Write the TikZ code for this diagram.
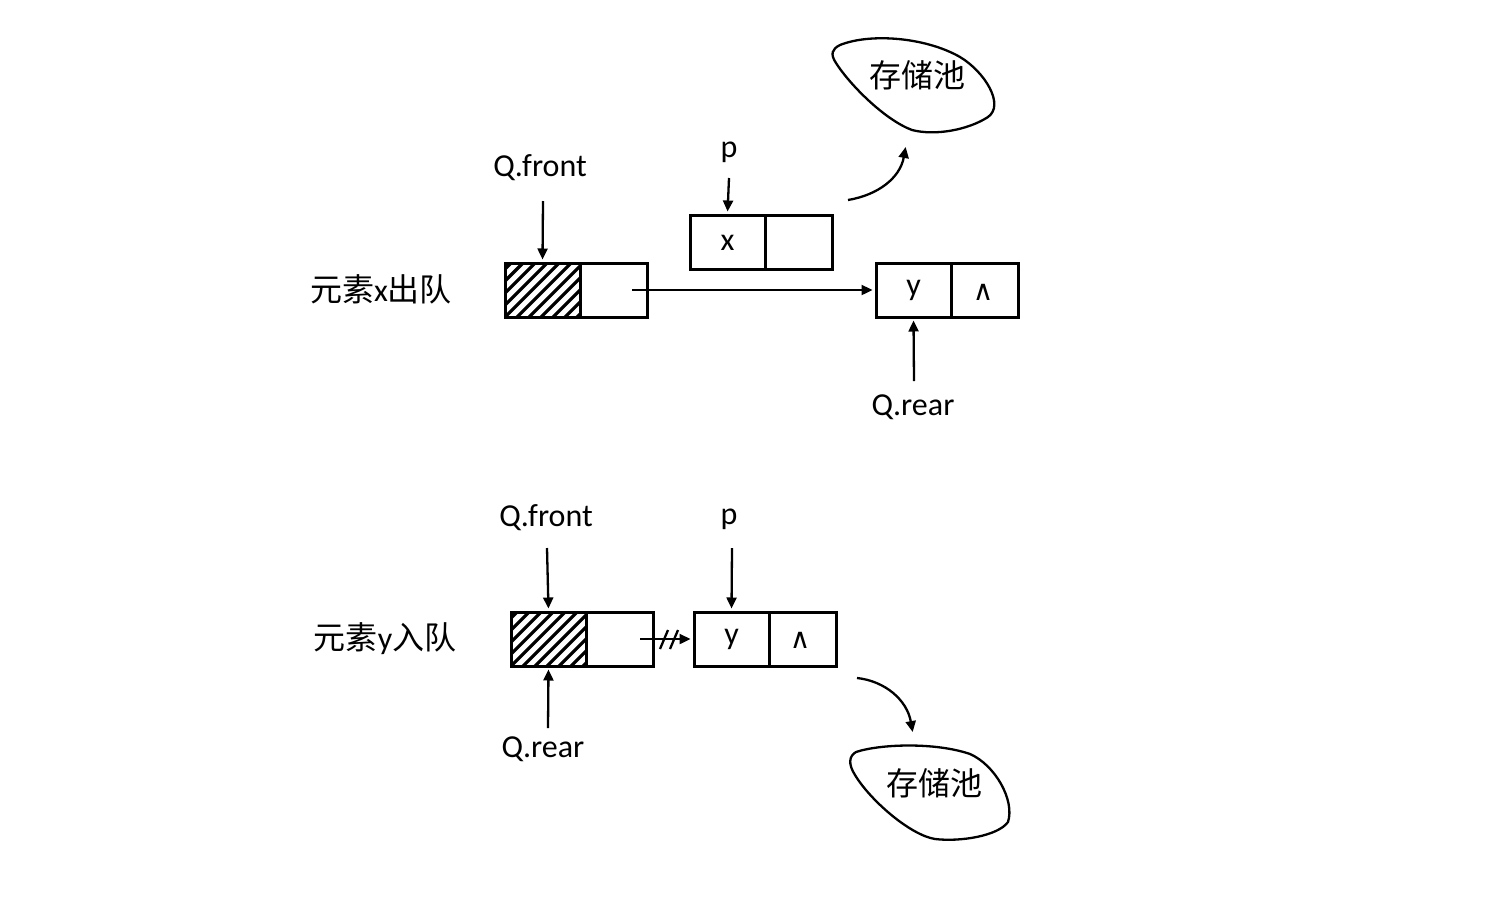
\documentclass[tikz,border=0pt]{standalone}
\usepackage{fontspec}
\setmainfont{Carlito}
\newfontfamily\cjk{Noto Sans CJK SC}
\newfontfamily\dejavu{DejaVu Sans}
\usetikzlibrary{arrows.meta}
\tikzset{
  cell/.style={draw, line width=3pt, rectangle, inner sep=0pt, minimum height=54pt},
  wide/.style={cell, minimum width=75pt},
  narrow/.style={cell, minimum width=67pt},
  lbl/.style={inner sep=0pt, font=\fontsize{32}{34}\selectfont},
  cjklbl/.style={inner sep=0pt, font=\fontsize{32}{34}\selectfont\cjk},
  ptr/.style={line width=2.3pt, -{Triangle[length=11pt,width=10pt]}, shorten >=2pt},
  blob/.style={line width=2.3pt},
  nil/.style={inner sep=0pt, font=\fontsize{28}{30}\selectfont\dejavu}
}
\newcommand{\hatchcell}[4]{% x0 y0 x1 y1
  \begin{scope}
    \clip (#1,#2) rectangle (#3,#4);
    \foreach \k in {-60,-48,...,80} {
      \draw[line width=3.2pt] (#1+\k,#4) -- ++(60,-60);
    }
  \end{scope}
}
\begin{document}
\begin{tikzpicture}[x=1pt,y=-1pt]
\useasboundingbox (0,0) rectangle (1504,908);

% ---------- top: dequeue x ----------
\node[cjklbl] (lab1) at (381,289) {元素{\rmfamily x}出队};
\hatchcell{505}{263}{580}{317}
\node[wide] (hx1) at (542.5,290) {};
\node[narrow] (ex1) at (614,290) {};
\node[lbl] (qf1) at (540,168) {Q.front};
\draw[ptr] (543,201) -- (hx1.north);

\node[wide] (px) at (727.5,242) {};
\node[narrow] (pn) at (798.5,242) {};
\node[lbl] at (727.5,243) {x};
\node[lbl] (p1) at (729,152) {p};
\draw[ptr] (729,178) -- (px.north);

\node[wide] (yx) at (913.5,290) {};
\node[narrow] (yn) at (984.5,290) {};
\node[lbl] at (913.5,290) {y};
\node[nil] at (983,292) {∧};
\node[lbl] (qr1) at (913,407) {Q.rear};
\draw[ptr] (914,381) -- (yx.south);

\coordinate (s1) at (632,290);
\draw[ptr] (s1) -- (yx.west);

\coordinate (c1a) at (848,200);
\coordinate (c1b) at (906,145);
\draw[ptr] (c1a) .. controls (878,195) and (900,178) .. (c1b);

\draw[blob] (840,45) .. controls (870,33) and (925,37) .. (960,57)
  .. controls (985,72) and (1005,105) .. (988,117)
  .. controls (968,130) and (935,136) .. (912,130)
  .. controls (885,120) and (850,85) .. (836,63)
  .. controls (830,54) and (832,49) .. (840,45);
\node[cjklbl] (pool1) at (917,75) {存储池};

% ---------- bottom: enqueue y ----------
\node[cjklbl] (lab2) at (385,639) {元素{\rmfamily y}入队};
\hatchcell{511}{612}{586}{666}
\node[wide] (hy) at (548.5,639) {};
\node[narrow] (ey) at (619.5,639) {};
\node[lbl] (qf2) at (546,518) {Q.front};
\draw[ptr] (547,548) -- (hy.north);
\node[lbl] (qr2) at (543,749) {Q.rear};
\draw[ptr] (548,728) -- (hy.south);

\node[wide] (py) at (731.5,639) {};
\node[narrow] (pyn) at (802.5,639) {};
\node[lbl] at (731.5,639) {y};
\node[nil] at (800,640) {∧};
\node[lbl] (p2) at (729,519) {p};
\draw[ptr] (732,548) -- (py.north);

\coordinate (s2) at (640,639);
\draw[ptr] (s2) -- (py.west);
\draw[line width=2.3pt] (660,649) -- (668,630);
\draw[line width=2.3pt] (670,649) -- (678,630);

\coordinate (c2a) at (857,678);
\coordinate (c2b) at (913,734);
\draw[ptr] (c2a) .. controls (885,681) and (907,700) .. (c2b);

\draw[blob] (856,752) .. controls (880,744) and (935,742) .. (970,754)
  .. controls (995,765) and (1015,800) .. (1008,822)
  .. controls (998,836) and (960,842) .. (935,839)
  .. controls (910,835) and (870,800) .. (855,775)
  .. controls (848,764) and (849,756) .. (856,752);
\node[cjklbl] (pool2) at (934,783) {存储池};
\end{tikzpicture}
\end{document}
